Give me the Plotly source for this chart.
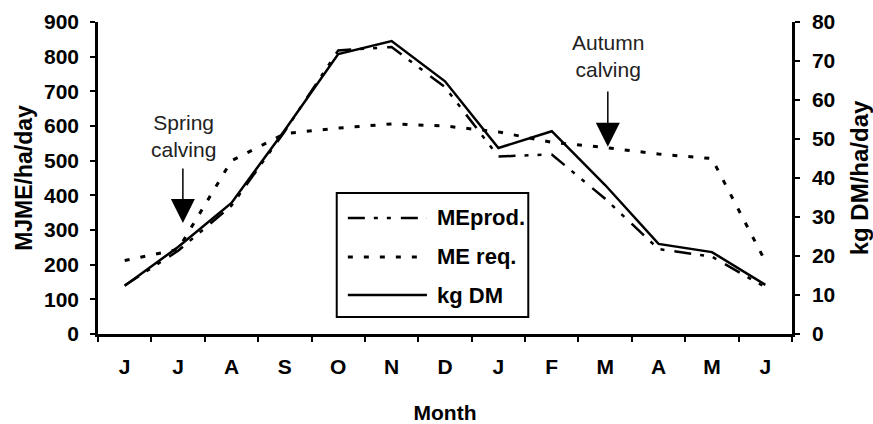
import plotly.graph_objects as go

# ---------------- data ----------------
months = ["J", "J", "A", "S", "O", "N", "D", "J", "F", "M", "A", "M", "J"]
me_prod = [140, 240, 370, 585, 818, 828, 712, 512, 518, 390, 245, 223, 135]   # MJME/ha/day
me_req = [212, 244, 500, 578, 594, 606, 600, 583, 553, 538, 519, 506, 210]    # MJME/ha/day
kg_dm = [12.4, 22.3, 33.6, 52.3, 71.8, 75.1, 64.8, 47.7, 52.0, 38.2, 23.1, 21.0, 12.6]  # kg DM/ha/day

left_ticks = list(range(0, 901, 100))
right_ticks = list(range(0, 81, 10))

x = list(range(len(months)))
bounds = [i - 0.5 for i in range(len(months) + 1)]

FONT = "Liberation Sans, Arial, Helvetica, sans-serif"
PROD_DASH = "17px,9px,4px,9px,4px,10px"
REQ_DASH = "5px,11px"

fig = go.Figure()
fig.add_trace(go.Scatter(x=x, y=me_prod, mode="lines", name="MEprod.",
                         line=dict(color="black", width=2.5, dash=PROD_DASH),
                         xaxis="x", yaxis="y", showlegend=False))
fig.add_trace(go.Scatter(x=x, y=me_req, mode="lines", name="ME req.",
                         line=dict(color="black", width=3, dash=REQ_DASH),
                         xaxis="x", yaxis="y", showlegend=False))
fig.add_trace(go.Scatter(x=x, y=kg_dm, mode="lines", name="kg DM",
                         line=dict(color="black", width=2.5),
                         xaxis="x", yaxis="y2", showlegend=False))

axis_common = dict(showgrid=False, zeroline=False, color="black", automargin=False)
tickfont = dict(family=FONT, size=21, color="black", weight="bold")

fig.update_layout(
    width=873, height=424,
    margin=dict(l=98, r=81, t=22, b=90, autoexpand=False),
    paper_bgcolor="white", plot_bgcolor="white",
    showlegend=False,
    xaxis=dict(**axis_common, range=[-0.5, 12.5], tickmode="array", tickvals=x, ticktext=months,
               ticks="", showline=True, linewidth=2.5, linecolor="black",
               tickfont=tickfont, ticklabelstandoff=12,
               minor=dict(tickmode="array", tickvals=bounds, ticks="outside", ticklen=5,
                          tickwidth=2, tickcolor="black"),
               title=dict(text="Month", font=dict(family=FONT, size=21, color="black", weight="bold"),
                          standoff=43)),
    xaxis2=dict(**axis_common, range=[-0.5, 12.5], overlaying="x", anchor="y", side="bottom",
                tickmode="array", tickvals=bounds, ticks="inside", ticklen=5, tickwidth=2,
                tickcolor="black", showticklabels=False, showline=False),
    yaxis=dict(**axis_common, range=[0, 900], tickmode="array", tickvals=left_ticks,
               ticks="outside", ticklen=5, tickwidth=2, tickcolor="black",
               showline=True, linewidth=2.5, linecolor="black",
               tickfont=tickfont, ticklabelstandoff=7,
               title=dict(text="MJME/ha/day", font=dict(family=FONT, size=23, color="black", weight="bold"),
                          standoff=5)),
    yaxis2=dict(**axis_common, range=[0, 80], tickmode="array", tickvals=right_ticks,
                overlaying="y", side="right", anchor="x",
                ticks="outside", ticklen=5, tickwidth=2, tickcolor="black",
                showline=True, linewidth=2.5, linecolor="black",
                tickfont=tickfont, ticklabelstandoff=8,
                title=dict(text="kg DM/ha/day", font=dict(family=FONT, size=24, color="black", weight="bold"),
                           standoff=20)),
    yaxis3=dict(**axis_common, range=[0, 900], tickmode="array", tickvals=left_ticks,
                overlaying="y", side="left", anchor="x", ticks="inside", ticklen=5, tickwidth=2,
                tickcolor="black", showticklabels=False, showline=False),
    yaxis4=dict(**axis_common, range=[0, 80], tickmode="array", tickvals=right_ticks,
                overlaying="y", side="right", anchor="x", ticks="inside", ticklen=5, tickwidth=2,
                tickcolor="black", showticklabels=False, showline=False),
)

# ---- calving annotations ----
ann_font = dict(family=FONT, size=21, color="#222")
fig.add_annotation(x=1.11, y=572, xref="x", yref="y", text="Spring<br>calving",
                   showarrow=False, font=ann_font, align="center")
fig.add_annotation(x=1.09, y=320, xref="x", yref="y", ax=1.09, ay=482, axref="x", ayref="y",
                   text="", showarrow=True, arrowhead=2, arrowsize=3.2, arrowwidth=1.5,
                   arrowcolor="black", standoff=0)
fig.add_annotation(x=9.05, y=802, xref="x", yref="y", text="Autumn<br>calving",
                   showarrow=False, font=ann_font, align="center")
fig.add_annotation(x=9.05, y=540, xref="x", yref="y", ax=9.05, ay=704, axref="x", ayref="y",
                   text="", showarrow=True, arrowhead=2, arrowsize=3.2, arrowwidth=1.5,
                   arrowcolor="black", standoff=0)

# ---- boxed key (drawn in paper space) ----
fig.add_shape(type="rect", xref="paper", yref="paper", x0=0.344, x1=0.620, y0=0.0545, y1=0.452,
              line=dict(color="black", width=2), fillcolor="white", layer="above")
key = [("MEprod.", PROD_DASH, 2.5, 0.372), ("ME req.", REQ_DASH, 3, 0.247), ("kg DM", "solid", 2.5, 0.125)]
for label, dash, w, yy in key:
    fig.add_shape(type="line", xref="paper", yref="paper", x0=0.360, x1=0.474, y0=yy, y1=yy,
                  line=dict(color="black", width=w, dash=dash), layer="above")
    fig.add_annotation(x=0.4856, y=yy, xref="paper", yref="paper", text=label, showarrow=False,
                       xanchor="left", yanchor="middle",
                       font=dict(family=FONT, size=22, color="black", weight="bold"))

fig.write_html("out.html")
